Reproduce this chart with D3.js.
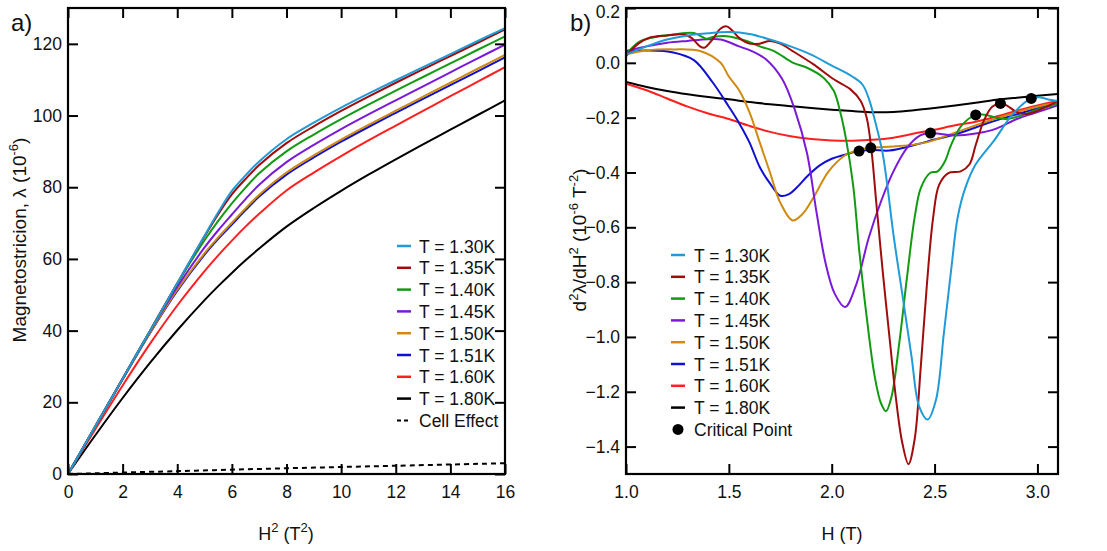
<!doctype html>
<meta charset="utf-8">
<style>
    body { margin: 0; background: #fff; }
    svg { font-family: "Liberation Sans", Arial, sans-serif; }
    .axis path { display: none; }
    .axis text { font-size: 17.5px; fill: #111; }
</style>
<body>
<script src="https://d3js.org/d3.v7.min.js"></script>
<script>
    // ---- panel a) data: lambda vs H^2 ----
    const temps = ['T = 1.30K', 'T = 1.35K', 'T = 1.40K', 'T = 1.45K', 'T = 1.50K', 'T = 1.51K', 'T = 1.60K', 'T = 1.80K'];
    const colors = ['#1f9bd7', '#a00c0c', '#129a12', '#7a1ad8', '#d08a10', '#1010d0', '#ff1f1f', '#000000'];

    const h2 = [0, 1, 2, 3, 4, 5, 5.5, 6, 6.5, 7, 8, 9, 10, 11, 12, 13, 14, 15, 16];
    const lam130 = [0, 13.3, 26.6, 39.9, 53.2, 66.5, 73, 79, 83.3, 87.2, 93.4, 98, 102.2, 106.1, 109.85, 113.5, 117.15, 120.8, 124.4];
    const lam135 = [0, 13.3, 26.6, 39.9, 53.2, 66.3, 72.5, 78, 82.3, 86.2, 92.3, 97, 101.3, 105.3, 109.15, 112.9, 116.6, 120.3, 124.0];
    const lam140 = [0, 13.3, 26.6, 39.9, 53.1, 65.2, 70.6, 75.5, 79.9, 83.9, 90, 94.7, 99, 103.05, 106.95, 110.75, 114.55, 118.35, 122.1];
    const lam145 = [0, 13.3, 26.6, 39.8, 52.2, 63.2, 68, 72.4, 76.7, 80.7, 87, 91.8, 96.2, 100.3, 104.25, 108.15, 112.05, 115.95, 119.8];
    const lam150 = [0, 13.2, 26.4, 39.4, 51.4, 61.6, 66, 70.1, 74.1, 77.9, 84.1, 88.9, 93.3, 97.4, 101.35, 105.25, 109.15, 113.05, 116.9];
    const lam151 = [0, 13.2, 26.4, 39.3, 51.1, 61.2, 65.6, 69.6, 73.6, 77.4, 83.5, 88.3, 92.7, 96.8, 100.75, 104.65, 108.5, 112.35, 116.2];
    const lam160 = [0, 12.5, 24.7, 36.3, 47, 56.6, 61, 65.1, 69, 72.6, 79.1, 84.1, 88.7, 93.05, 97.2, 101.3, 105.4, 109.45, 113.5];
    const lam180 = [0, 10.8, 21.2, 31, 40.1, 48.5, 52.4, 56.1, 59.6, 62.9, 69, 74.2, 79, 83.5, 87.8, 91.95, 96.05, 100.15, 104.2];
    const cellH2 = [0, 4, 8, 12, 16];
    const cellLam = [0, 0.8, 1.6, 2.3, 3.0];

    // ---- panel b) data: d2(lambda)/dH2 vs H ----
    const h130 = [1.0, 1.1, 1.2, 1.3, 1.4, 1.5, 1.6, 1.7, 1.8, 1.9, 2.0, 2.1, 2.15, 2.18, 2.21, 2.246, 2.27, 2.3, 2.343, 2.388, 2.425, 2.466, 2.507, 2.545, 2.582, 2.612, 2.649, 2.7, 2.79, 2.88, 2.97, 3.01, 3.06, 3.1];
    const d130 = [0.03, 0.06, 0.085, 0.1, 0.108, 0.112, 0.105, 0.085, 0.06, 0.03, -0.01, -0.05, -0.08, -0.13, -0.21, -0.324, -0.445, -0.626, -0.843, -1.072, -1.253, -1.301, -1.229, -0.988, -0.746, -0.565, -0.457, -0.37, -0.283, -0.187, -0.13, -0.126, -0.135, -0.14];
    const h135 = [1.0, 1.06, 1.12, 1.2, 1.28, 1.32, 1.36, 1.38, 1.42, 1.46, 1.49, 1.52, 1.55, 1.6, 1.65, 1.7, 1.75, 1.81, 1.91, 2.01, 2.09, 2.14, 2.17, 2.194, 2.216, 2.246, 2.284, 2.313, 2.343, 2.373, 2.403, 2.433, 2.463, 2.493, 2.522, 2.567, 2.627, 2.67, 2.7, 2.74, 2.78, 2.82, 2.85, 2.9, 2.95, 3.0, 3.1];
    const d135 = [0.025, 0.07, 0.093, 0.1, 0.103, 0.09, 0.06, 0.055, 0.085, 0.125, 0.133, 0.115, 0.091, 0.07, 0.07, 0.08, 0.07, 0.043, -0.005, -0.06, -0.096, -0.138, -0.2, -0.324, -0.505, -0.746, -1.024, -1.229, -1.386, -1.464, -1.374, -1.108, -0.806, -0.565, -0.445, -0.402, -0.396, -0.37, -0.3, -0.21, -0.16, -0.148, -0.155, -0.18, -0.187, -0.175, -0.14];
    const h140 = [1.0, 1.07, 1.15, 1.23, 1.33, 1.37, 1.39, 1.43, 1.49, 1.54, 1.59, 1.65, 1.72, 1.81, 1.88, 1.96, 2.01, 2.04, 2.07, 2.104, 2.134, 2.17, 2.209, 2.239, 2.264, 2.291, 2.328, 2.366, 2.403, 2.433, 2.478, 2.515, 2.55, 2.58, 2.63, 2.7, 2.75, 2.8, 2.85, 2.93, 3.0, 3.1];
    const d140 = [0.031, 0.079, 0.095, 0.103, 0.109, 0.095, 0.088, 0.095, 0.097, 0.09, 0.079, 0.06, 0.043, 0.001, -0.018, -0.054, -0.102, -0.175, -0.28, -0.445, -0.686, -0.927, -1.144, -1.241, -1.271, -1.217, -1.024, -0.782, -0.565, -0.457, -0.402, -0.396, -0.36, -0.3, -0.23, -0.19, -0.19, -0.2, -0.205, -0.19, -0.17, -0.15];
    const h145 = [1.0, 1.1, 1.2, 1.3, 1.4, 1.46, 1.55, 1.62, 1.68, 1.76, 1.82, 1.88, 1.925, 1.97, 2.015, 2.065, 2.12, 2.18, 2.24, 2.3, 2.366, 2.43, 2.48, 2.53, 2.6, 2.7, 2.8, 2.9, 3.0, 3.1];
    const d145 = [0.043, 0.06, 0.073, 0.08, 0.086, 0.085, 0.06, 0.04, 0.013, -0.06, -0.17, -0.33, -0.54, -0.73, -0.843, -0.891, -0.807, -0.638, -0.505, -0.396, -0.31, -0.265, -0.256, -0.26, -0.265, -0.258, -0.24, -0.205, -0.18, -0.155];
    const h150 = [1.0, 1.1, 1.23, 1.36, 1.46, 1.5, 1.55, 1.6, 1.65, 1.7, 1.75, 1.81, 1.86, 1.91, 1.985, 2.06, 2.1, 2.19, 2.3, 2.45, 2.6, 2.75, 2.9, 3.0, 3.1];
    const d150 = [0.031, 0.045, 0.049, 0.043, 0.0, -0.05, -0.1, -0.18, -0.29, -0.40, -0.51, -0.575, -0.55, -0.493, -0.396, -0.34, -0.325, -0.31, -0.305, -0.292, -0.255, -0.215, -0.18, -0.16, -0.145];
    const h151 = [1.0, 1.1, 1.23, 1.33, 1.42, 1.5, 1.55, 1.6, 1.65, 1.7, 1.75, 1.79, 1.83, 1.88, 1.94, 2.0, 2.06, 2.133, 2.2, 2.28, 2.41, 2.5, 2.61, 2.77, 2.93, 3.1];
    const d151 = [0.043, 0.045, 0.038, 0.01, -0.07, -0.16, -0.22, -0.29, -0.38, -0.44, -0.485, -0.48, -0.455, -0.415, -0.375, -0.35, -0.336, -0.322, -0.318, -0.32, -0.298, -0.28, -0.259, -0.217, -0.181, -0.144];
    const h160 = [1.0, 1.1, 1.2, 1.3, 1.4, 1.5, 1.6, 1.7, 1.8, 1.9, 2.0, 2.1, 2.2, 2.3, 2.4, 2.5, 2.6, 2.7, 2.8, 2.9, 3.0, 3.1];
    const d160 = [-0.076, -0.1, -0.13, -0.16, -0.185, -0.205, -0.23, -0.252, -0.268, -0.278, -0.283, -0.284, -0.281, -0.273, -0.258, -0.244, -0.228, -0.215, -0.196, -0.175, -0.156, -0.138];
    const h180 = [1.0, 1.1, 1.2, 1.3, 1.4, 1.5, 1.6, 1.7, 1.8, 1.9, 2.0, 2.1, 2.2, 2.3, 2.4, 2.5, 2.6, 2.7, 2.8, 2.9, 3.0, 3.1];
    const d180 = [-0.07, -0.088, -0.103, -0.115, -0.125, -0.133, -0.143, -0.151, -0.158, -0.165, -0.171, -0.176, -0.18, -0.179, -0.173, -0.165, -0.156, -0.146, -0.135, -0.127, -0.12, -0.114];
    const critH = [2.133, 2.19, 2.48, 2.70, 2.82, 2.97];
    const critD = [-0.322, -0.31, -0.256, -0.19, -0.148, -0.13];

    const xTicksA = [0, 2, 4, 6, 8, 10, 12, 14, 16];
    const yTicksA = [0, 20, 40, 60, 80, 100, 120];
    const xTicksB = [1.0, 1.5, 2.0, 2.5, 3.0];
    const yTicksB = [0.2, 0.0, -0.2, -0.4, -0.6, -0.8, -1.0, -1.2, -1.4];

    const svg = d3.select('body').append('svg').attr('width', 1107).attr('height', 551);

    const zip = (xs, ys) => xs.map((v, i) => [v, ys[i]]);

    // frame + mirrored ticks pointing inward
    function frame(g, x, y, w, h, xt, yt, xf, yf) {
        const tk = 10;
        const style = sel => sel.selectAll('.tick line').attr('stroke', '#000').attr('stroke-width', 2);
        g.append('g').attr('class', 'axis').attr('transform', `translate(0,${h})`)
            .call(d3.axisBottom(x).tickValues(xt).tickSizeInner(-tk).tickSizeOuter(0).tickPadding(12).tickFormat(xf))
            .call(style);
        g.append('g').attr('class', 'axis')
            .call(d3.axisTop(x).tickValues(xt).tickSizeInner(-tk).tickSizeOuter(0).tickFormat(''))
            .call(style);
        const left = g.append('g').attr('class', 'axis')
            .call(d3.axisLeft(y).tickValues(yt).tickSizeInner(-tk).tickSizeOuter(0).tickPadding(6).tickFormat(yf))
            .call(style);
        // keep a label sitting on the top edge inside the picture
        left.selectAll('.tick text').filter(d => y(d) < 4).attr('dy', '0.55em');
        g.append('g').attr('class', 'axis').attr('transform', `translate(${w},0)`)
            .call(d3.axisRight(y).tickValues(yt).tickSizeInner(-tk).tickSizeOuter(0).tickFormat(''))
            .call(style);
        g.append('rect').attr('width', w).attr('height', h)
            .attr('fill', 'none').attr('stroke', '#000').attr('stroke-width', 2.2);
    }

    // ---------- panel a ----------
    const mA = {left: 68, top: 8, w: 437, h: 466};
    const gA = svg.append('g').attr('transform', `translate(${mA.left},${mA.top})`);
    const xA = d3.scaleLinear().domain([0, 16]).range([0, mA.w]);
    const yA = d3.scaleLinear().domain([0, 130]).range([mA.h, 0]);
    const lineA = d3.line().x(d => xA(d[0])).y(d => yA(d[1])).curve(d3.curveCatmullRom.alpha(0.5));

    const seriesA = [lam130, lam135, lam140, lam145, lam150, lam151, lam160, lam180];
    gA.append('clipPath').attr('id', 'clipA').append('rect').attr('width', mA.w).attr('height', mA.h);
    const plotA = gA.append('g').attr('clip-path', 'url(#clipA)');
    plotA.append('path').datum(zip(cellH2, cellLam)).attr('d', lineA)
        .attr('fill', 'none').attr('stroke', '#000').attr('stroke-width', 2).attr('stroke-dasharray', '5,4');
    seriesA.slice().reverse().forEach((s, k) => {
        const i = seriesA.length - 1 - k;
        plotA.append('path').datum(zip(h2, s)).attr('d', lineA)
            .attr('fill', 'none').attr('stroke', colors[i]).attr('stroke-width', 2);
    });
    frame(gA, xA, yA, mA.w, mA.h, xTicksA, yTicksA, d3.format('d'), d3.format('d'));

    // legend a
    const legA = svg.append('g').attr('transform', 'translate(397,246)');
    temps.concat(['Cell Effect']).forEach((t, i) => {
        const r = legA.append('g').attr('transform', `translate(0,${i * 21.8})`);
        r.append('line').attr('x1', 0).attr('x2', 14).attr('stroke', i < 8 ? colors[i] : '#000')
            .attr('stroke-width', i < 8 ? 2.5 : 2).attr('stroke-dasharray', i < 8 ? null : '4,3');
        r.append('text').attr('x', 22).attr('y', 6.5).attr('font-size', 17.5).attr('fill', '#111').text(t);
    });

    // ---------- panel b ----------
    const mB = {left: 626, top: 8, w: 432, h: 466};
    const gB = svg.append('g').attr('transform', `translate(${mB.left},${mB.top})`);
    const xB = d3.scaleLinear().domain([1.0, 3.1]).range([0, mB.w]);
    const yB = d3.scaleLinear().domain([-1.5, 0.2]).range([mB.h, 0]);
    const lineB = d3.line().x(d => xB(d[0])).y(d => yB(d[1])).curve(d3.curveCatmullRom.alpha(0.5));

    const seriesB = [[h130, d130], [h135, d135], [h140, d140], [h145, d145], [h150, d150], [h151, d151], [h160, d160], [h180, d180]];
    gB.append('clipPath').attr('id', 'clipB').append('rect').attr('width', mB.w).attr('height', mB.h);
    const plotB = gB.append('g').attr('clip-path', 'url(#clipB)');
    seriesB.slice().reverse().forEach((s, k) => {
        const i = seriesB.length - 1 - k;
        plotB.append('path').datum(zip(s[0], s[1])).attr('d', lineB)
            .attr('fill', 'none').attr('stroke', colors[i]).attr('stroke-width', 2);
    });
    plotB.selectAll('.crit').data(zip(critH, critD)).enter().append('circle')
        .attr('cx', d => xB(d[0])).attr('cy', d => yB(d[1])).attr('r', 5.5).attr('fill', '#000');
    frame(gB, xB, yB, mB.w, mB.h, xTicksB, yTicksB, d3.format('.1f'), d3.format('.1f'));

    // legend b
    const legB = svg.append('g').attr('transform', 'translate(671,255)');
    temps.concat(['Critical Point']).forEach((t, i) => {
        const r = legB.append('g').attr('transform', `translate(0,${i * 21.8})`);
        if (i < 8) {
            r.append('line').attr('x1', 0).attr('x2', 14).attr('stroke', colors[i]).attr('stroke-width', 2.5);
        } else {
            r.append('circle').attr('cx', 7).attr('cy', 0).attr('r', 5.5).attr('fill', '#000');
        }
        r.append('text').attr('x', 23).attr('y', 6.5).attr('font-size', 17.5).attr('fill', '#111').text(t);
    });

    // ---------- titles ----------
    svg.append('text').attr('x', 11).attr('y', 31).attr('font-size', 24).attr('fill', '#111').text('a)');
    svg.append('text').attr('x', 570).attr('y', 31).attr('font-size', 24).attr('fill', '#111').text('b)');

    const tA = svg.append('text').attr('transform', 'translate(26,240) rotate(-90)')
        .attr('text-anchor', 'middle').attr('font-size', 19).attr('fill', '#111');
    tA.append('tspan').text('Magnetostricion, λ (10');
    tA.append('tspan').attr('dy', -8).attr('font-size', 13).text('-6');
    tA.append('tspan').attr('dy', 8).text(')');

    const xtA = svg.append('text').attr('x', 286).attr('y', 540).attr('text-anchor', 'middle')
        .attr('font-size', 18).attr('fill', '#111');
    xtA.append('tspan').text('H');
    xtA.append('tspan').attr('dy', -8).attr('font-size', 13).text('2');
    xtA.append('tspan').attr('dy', 8).text(' (T');
    xtA.append('tspan').attr('dy', -8).attr('font-size', 13).text('2');
    xtA.append('tspan').attr('dy', 8).text(')');

    const tB = svg.append('text').attr('transform', 'translate(586,240) rotate(-90)')
        .attr('text-anchor', 'middle').attr('font-size', 19).attr('fill', '#111');
    tB.append('tspan').text('d');
    tB.append('tspan').attr('dy', -8).attr('font-size', 13).text('2');
    tB.append('tspan').attr('dy', 8).text('λ/dH');
    tB.append('tspan').attr('dy', -8).attr('font-size', 13).text('2');
    tB.append('tspan').attr('dy', 8).text(' (10');
    tB.append('tspan').attr('dy', -8).attr('font-size', 13).text('-6');
    tB.append('tspan').attr('dy', 8).text(' T');
    tB.append('tspan').attr('dy', -8).attr('font-size', 13).text('-2');
    tB.append('tspan').attr('dy', 8).text(')');

    svg.append('text').attr('x', 842).attr('y', 540).attr('text-anchor', 'middle')
        .attr('font-size', 18).attr('fill', '#111').text('H (T)');
</script>
